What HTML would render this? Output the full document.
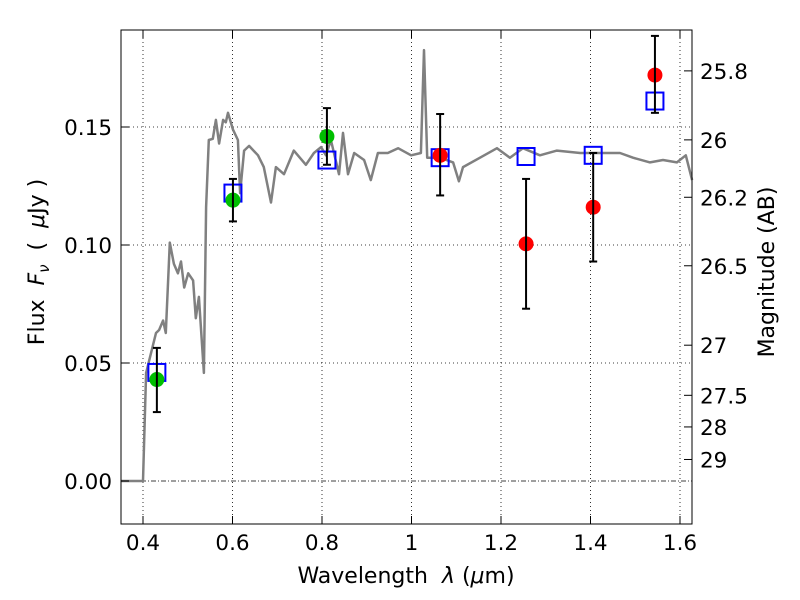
<!DOCTYPE html>
<html><head><meta charset="utf-8"><style>body{margin:0;background:#fff}svg{display:block;font-family:"DejaVu Sans","Liberation Sans",sans-serif}text{white-space:pre}</style></head>
<body>
<svg id="chart" width="800" height="600" xmlns="http://www.w3.org/2000/svg"></svg>
<script>
const specLam=[0.351,0.400,0.407,0.429,0.436,0.445,0.451,0.460,0.469,0.478,0.485,0.492,0.501,0.512,0.518,0.525,0.536,0.541,0.547,0.556,0.563,0.570,0.579,0.585,0.590,0.601,0.612,0.617,0.626,0.637,0.657,0.670,0.686,0.697,0.715,0.737,0.764,0.782,0.798,0.809,0.820,0.838,0.847,0.858,0.872,0.894,0.909,0.925,0.947,0.970,0.999,1.021,1.028,1.035,1.064,1.093,1.106,1.115,1.153,1.191,1.220,1.249,1.287,1.325,1.377,1.437,1.466,1.495,1.533,1.562,1.593,1.613,1.627];
const specFlux=[0,0,0.0458,0.0627,0.064,0.068,0.0627,0.101,0.092,0.088,0.093,0.082,0.088,0.085,0.069,0.078,0.0458,0.116,0.1445,0.145,0.153,0.143,0.153,0.152,0.156,0.149,0.1445,0.122,0.140,0.142,0.138,0.133,0.118,0.133,0.130,0.140,0.134,0.139,0.1415,0.138,0.1445,0.130,0.1475,0.130,0.139,0.136,0.1275,0.139,0.139,0.141,0.138,0.139,0.1826,0.137,0.137,0.135,0.127,0.133,0.137,0.141,0.137,0.141,0.138,0.140,0.139,0.139,0.139,0.137,0.135,0.136,0.135,0.138,0.1275];
const obsLam=[0.431,0.601,0.811,1.064,1.256,1.406,1.544];
const obsFlux=[0.043,0.119,0.146,0.138,0.1005,0.116,0.172];
const errHi=[0.0564,0.128,0.158,0.1555,0.128,0.139,0.1886];
const errLo=[0.0292,0.110,0.134,0.121,0.073,0.093,0.156];
const obsColor=['#00bf00','#00bf00','#00bf00','#ff0000','#ff0000','#ff0000','#ff0000'];
const modelFlux=[0.046,0.122,0.136,0.137,0.1375,0.138,0.161];
const xTicks=[0.4,0.6,0.8,1.0,1.2,1.4,1.6];
const xTickLabels=['0.4','0.6','0.8','1','1.2','1.4','1.6'];
const yTicks=[0,0.05,0.10,0.15];
const yTickLabels=['0.00','0.05','0.10','0.15'];
const magTicks=[25.8,26,26.2,26.5,27,27.5,28,29];
const magTickLabels=['25.8','26','26.2','26.5','27','27.5','28','29'];

const L=121,R=692,T=30,B=524;
const X=v=>143+(v-0.4)*447.5;
const Y=v=>481-v*2360;
const NS='http://www.w3.org/2000/svg';
const svg=document.getElementById('chart');
function mk(tag,attrs,parent){const e=document.createElementNS(NS,tag);for(const k in attrs)e.setAttribute(k,attrs[k]);(parent||svg).appendChild(e);return e;}

const grid=mk('g',{});


xTicks.forEach(t=>{mk('line',{x1:X(t),x2:X(t),y1:T,y2:B,stroke:'#000','stroke-width':0.8,'stroke-dasharray':'1,3'},grid);});
yTicks.forEach(t=>{mk('line',{x1:L,x2:R,y1:Y(t),y2:Y(t),stroke:'#000','stroke-width':0.8,'stroke-dasharray':t===0?'5,2,1,2':'1,3'},grid);});

let d='';specLam.forEach((l,i)=>{d+=(i?'L':'M')+X(l).toFixed(1)+','+Y(specFlux[i]).toFixed(1);});
const sp=mk('path',{d:d,fill:'none',stroke:'#808080','stroke-width':2.5,'stroke-linejoin':'round'});



obsLam.forEach((l,i)=>{
  const g=mk('g',{});
  
  
  const x=X(l);
  mk('rect',{x:x-8.5,y:Y(modelFlux[i])-8.5,width:17,height:17,fill:'none',stroke:'#0000ff','stroke-width':2},g);
  mk('circle',{cx:x,cy:Y(obsFlux[i]),r:7.5,fill:obsColor[i]},g);
  mk('line',{x1:x,x2:x,y1:Y(errHi[i]),y2:Y(errLo[i]),stroke:'#000','stroke-width':2},g);
  mk('line',{x1:x-4,x2:x+4,y1:Y(errHi[i]),y2:Y(errHi[i]),stroke:'#000','stroke-width':2},g);
  mk('line',{x1:x-4,x2:x+4,y1:Y(errLo[i]),y2:Y(errLo[i]),stroke:'#000','stroke-width':2},g);
});

const fr=mk('rect',{x:L,y:T,width:R-L,height:B-T,fill:'none',stroke:'#000','stroke-width':1});



xTicks.forEach((t,i)=>{
  mk('line',{x1:X(t),x2:X(t),y1:B,y2:B-8,stroke:'#000'});
  mk('line',{x1:X(t),x2:X(t),y1:T,y2:T+8,stroke:'#000'});
  const tx=mk('text',{x:X(t),y:B+26,'font-size':21.5,'text-anchor':'middle'});
  tx.textContent=xTickLabels[i];
  
  
});
yTicks.forEach((t,i)=>{
  mk('line',{x1:L,x2:L+8,y1:Y(t),y2:Y(t),stroke:'#000'});
  const tx=mk('text',{x:L-9,y:Y(t)+8,'font-size':21.5,'text-anchor':'end'});
  tx.textContent=yTickLabels[i];
  
  
});
magTicks.forEach((m,i)=>{
  const y=Y(Math.pow(10,-(m-23.9)/2.5));
  mk('line',{x1:R,x2:R-8,y1:y,y2:y,stroke:'#000'});
  const tx=mk('text',{x:R+8,y:y+8,'font-size':21.5});
  tx.textContent=magTickLabels[i];
  
  
});

const t1=mk('text',{x:406,y:583,'font-size':22,'text-anchor':'middle'});


t1.innerHTML='Wavelength  <tspan font-style="italic">λ</tspan> (<tspan font-style="italic">μ</tspan>m)';
const t2=mk('text',{transform:'translate(44,262) rotate(-90)','font-size':22,'text-anchor':'middle'});


t2.innerHTML='Flux  <tspan font-style="italic">F</tspan><tspan font-style="italic" font-size="15" dy="5">ν</tspan><tspan dy="-5">  (  </tspan><tspan font-style="italic">μ</tspan>Jy )';
const t3=mk('text',{transform:'translate(774,272) rotate(-90)','font-size':22,'text-anchor':'middle'});


t3.textContent='Magnitude (AB)';
</script>
</body></html>
